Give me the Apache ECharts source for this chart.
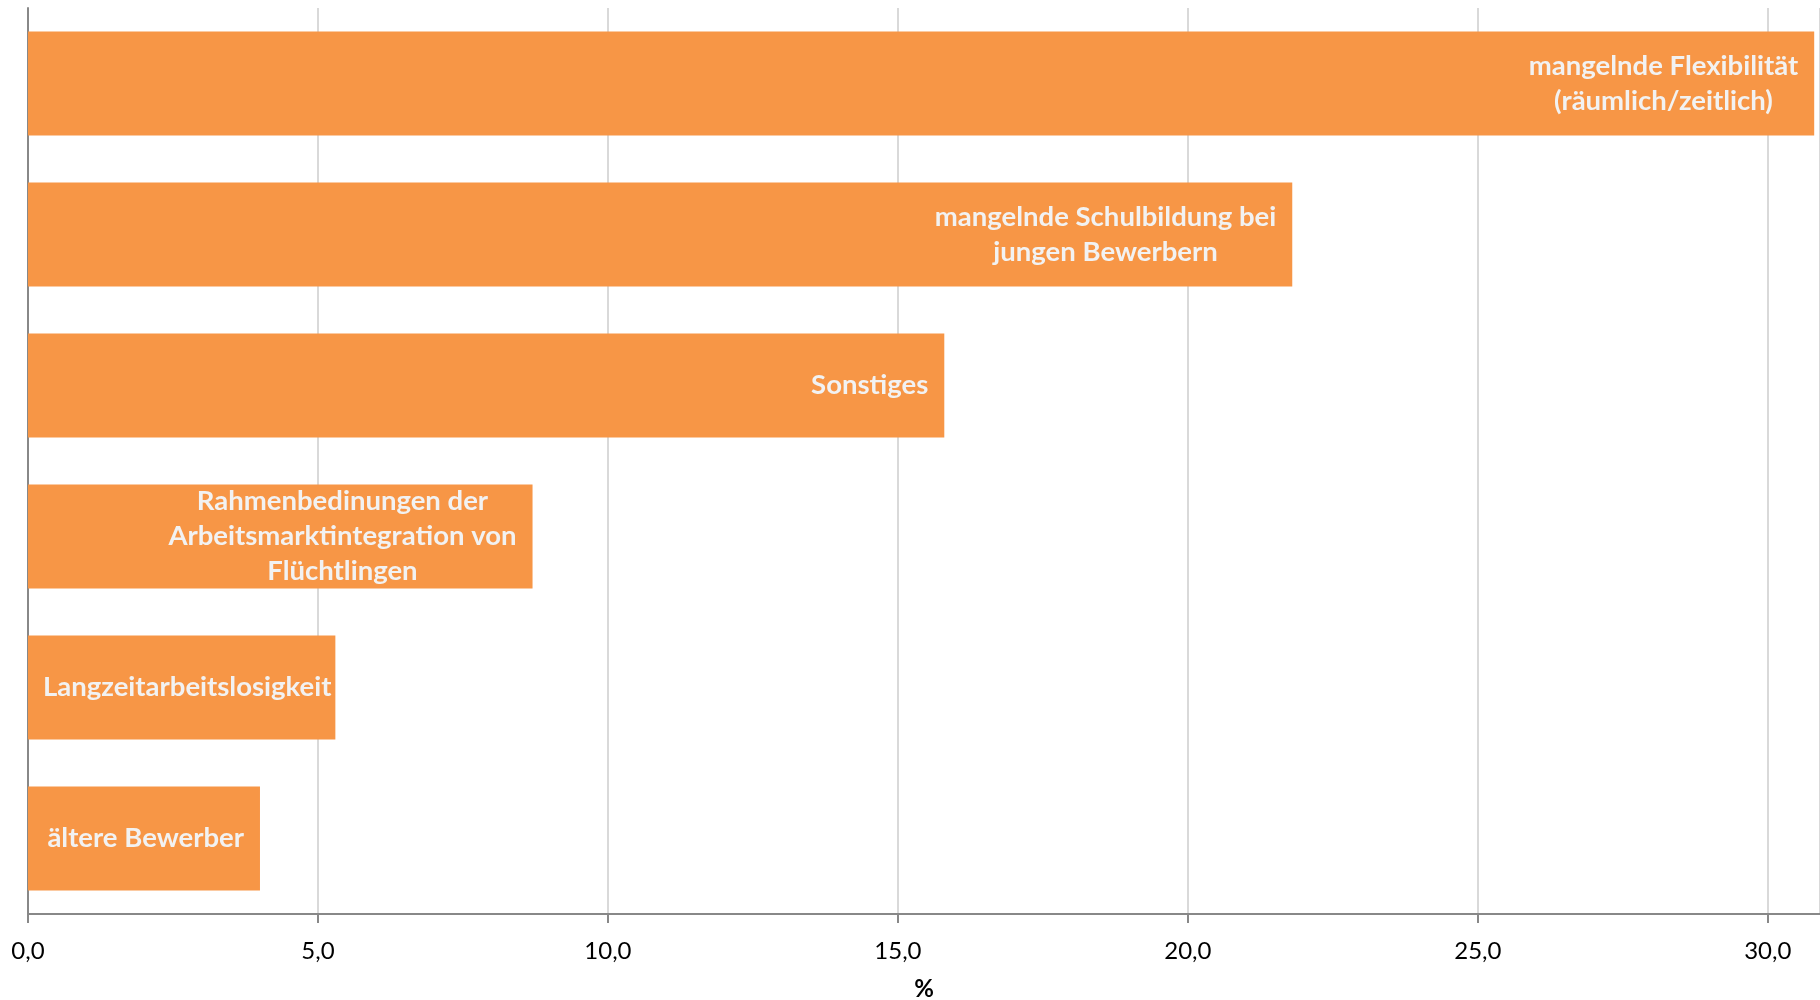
<!DOCTYPE html>
<html><head><meta charset="utf-8">
<script src="https://cdn.jsdelivr.net/npm/echarts@6/dist/echarts.min.js"></script>
<style>html,body{margin:0;padding:0;background:#fff}#c{width:1820px;height:1000px}</style>
</head><body><div id="c"></div>
<script>
const categories = [
  'mangelnde Flexibilität\n(räumlich/zeitlich)',
  'mangelnde Schulbildung bei\njungen Bewerbern',
  'Sonstiges',
  'Rahmenbedinungen der\nArbeitsmarktintegration von\nFlüchtlingen',
  'Langzeitarbeitslosigkeit',
  'ältere Bewerber'
];
const values = [30.8, 21.8, 15.8, 8.7, 5.3, 4.0];
const axisMin = 0, axisMax = 30.9, tickStep = 5;
const axisName = '%';

const labelFontSize = 27.5;
const labelFontFamily = 'Lato';
const chart = echarts.init(document.getElementById('c'), null, {renderer: 'canvas'});
function fmt(v) { return v.toFixed(1).replace('.', ','); }

chart.setOption({
  animation: false,
  backgroundColor: '#ffffff',
  grid: {left: 28, right: 0, top: 8, bottom: 86, containLabel: false, outerBoundsMode: 'none'},
  xAxis: {
    type: 'value', min: axisMin, max: axisMax, interval: tickStep,
    axisLine: {show: true, lineStyle: {color: '#888888', width: 2}},
    axisTick: {show: true, length: 9, lineStyle: {color: '#888888', width: 2}},
    splitLine: {show: true, lineStyle: {color: '#D9D9D9', width: 2}},
    axisLabel: {
      formatter: fmt, showMaxLabel: false, margin: 25,
      fontSize: 24, color: '#000', fontFamily: 'Lato'
    },
    name: axisName, nameLocation: 'middle', nameGap: 63,
    nameTextStyle: {fontSize: 24, fontWeight: 'bold', color: '#000', fontFamily: 'Lato'}
  },
  yAxis: {
    type: 'category', inverse: true, data: categories,
    axisLine: {show: true, lineStyle: {color: '#888888', width: 2}},
    axisTick: {show: false}, axisLabel: {show: false}, splitLine: {show: false}
  },
  series: [{
    type: 'bar', data: values, barCategoryGap: '31%',
    itemStyle: {color: '#F79646'},
    label: {
      show: true, position: ['100%', '50%'], align: 'center', verticalAlign: 'middle',
      formatter: p => categories[p.dataIndex],
      color: '#F2F2F2', fontSize: labelFontSize, fontWeight: 'bold',
      fontFamily: labelFontFamily, lineHeight: 35
    }
  }]
});

const ctx = document.createElement('canvas').getContext('2d');
ctx.font = 'bold ' + labelFontSize + 'px ' + labelFontFamily;
const x0 = chart.convertToPixel({xAxisIndex: 0}, 0);
const data = values.map((v, i) => {
  const lines = categories[i].split('\n');
  const w = Math.max(...lines.map(l => ctx.measureText(l).width));
  const end = chart.convertToPixel({xAxisIndex: 0}, v);
  let right = end - 16;
  if (right - w < x0 + 15) right = Math.min(x0 + 15 + w, end - 3);
  const center = right - w / 2;
  return {value: v, label: {offset: [center - end, 0]}};
});
chart.setOption({series: [{data: data}]});
</script>
</body></html>
